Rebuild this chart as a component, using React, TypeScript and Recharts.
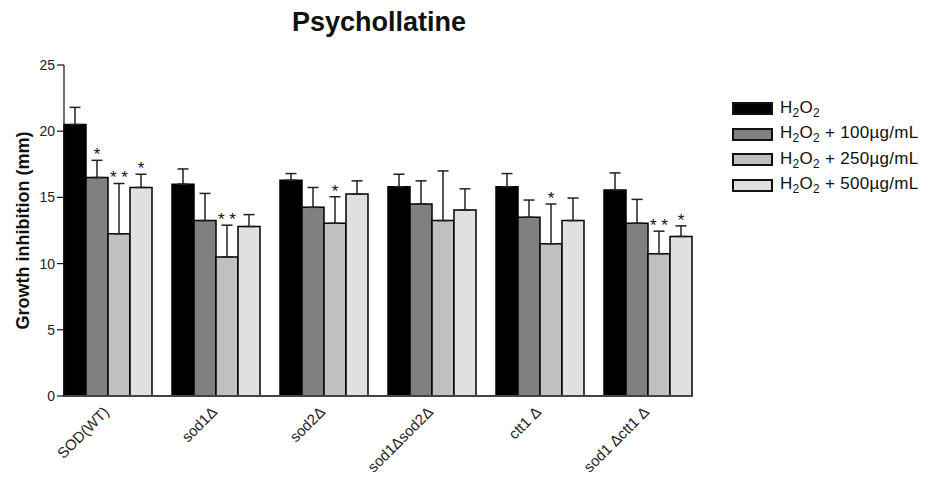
import {
  BarChart,
  Bar,
  XAxis,
  YAxis,
  ErrorBar,
  LabelList,
  Legend
} from 'recharts';

// strains on the x axis
const strains = ['SOD(WT)', 'sod1Δ', 'sod2Δ', 'sod1Δsod2Δ', 'ctt1 Δ', 'sod1 Δctt1 Δ'];

// mean growth inhibition (mm) and SD for each treatment
const h2o2 = [20.5, 16.0, 16.3, 15.8, 15.8, 15.55];
const h2o2Sd = [1.3, 1.15, 0.5, 0.95, 1.0, 1.3];
const dose100 = [16.5, 13.25, 14.25, 14.5, 13.5, 13.05];
const dose100Sd = [1.3, 2.05, 1.5, 1.75, 1.3, 1.8];
const dose250 = [12.25, 10.5, 13.05, 13.25, 11.5, 10.75];
const dose250Sd = [3.8, 2.4, 2.0, 3.75, 3.0, 1.7];
const dose500 = [15.75, 12.8, 15.25, 14.05, 13.25, 12.05];
const dose500Sd = [1.0, 0.9, 1.0, 1.6, 1.7, 0.8];

// significance marks
const sig100 = ['*', '', '', '', '', ''];
const sig250 = ['**', '**', '*', '', '*', '**'];
const sig500 = ['*', '', '', '', '', '*'];

const yTicks = [0, 5, 10, 15, 20, 25];

const data = strains.map((name, i) => ({
  name,
  h2o2: h2o2[i],
  h2o2Err: [0, h2o2Sd[i]],
  d100: dose100[i],
  d100Err: [0, dose100Sd[i]],
  d100Sig: sig100[i],
  d250: dose250[i],
  d250Err: [0, dose250Sd[i]],
  d250Sig: sig250[i],
  d500: dose500[i],
  d500Err: [0, dose500Sd[i]],
  d500Sig: sig500[i],
}));

const FONT = '"Liberation Sans", Arial, Helvetica, sans-serif';

// stars sit just above the error bar cap
const makeStars = (vals: number[], sds: number[]) => (p: any) => {
  const vb = p.viewBox ?? p;
  const { x, y, width, height } = vb;
  const idx = p.index;
  if (!p.value || idx == null) return null;
  const pxPerUnit = height / vals[idx];
  const capY = y - sds[idx] * pxPerUnit;
  const text = p.value === '**' ? '* *' : '*';
  return (
    <text
      x={x + width / 2}
      y={capY}
      textAnchor="middle"
      fontFamily={FONT}
      fontSize={17}
      fill="#111"
    >
      {text}
    </text>
  );
};

const XTick = ({ x, y, payload }: any) => (
  <g transform={`translate(${x + 3},${y + 17})`}>
    <text
      transform="rotate(-45)"
      textAnchor="end"
      fontFamily={FONT}
      fontSize={15}
      fill="#222"
    >
      {payload.value}
    </text>
  </g>
);

const YTitle = ({ viewBox }: any) => {
  const cx = 23;
  const cy = viewBox.y + viewBox.height / 2;
  return (
    <text
      x={cx}
      y={cy}
      transform={`rotate(-90 ${cx} ${cy})`}
      textAnchor="middle"
      dominantBaseline="central"
      fontFamily={FONT}
      fontWeight="bold"
      fontSize={18}
      fill="#111"
    >
      Growth inhibition (mm)
    </text>
  );
};

const LegendLabel = ({ text }: { text: string }) => {
  const rest = text.replace('H2O2', '');
  return (
    <span>
      H<sub style={{ fontSize: '0.7em' }}>2</sub>O<sub style={{ fontSize: '0.7em' }}>2</sub>
      {rest}
    </span>
  );
};

const LegendBox = ({ payload }: any) => (
  <div style={{ fontFamily: FONT, fontSize: 17, letterSpacing: 0.3, color: '#111' }}>
    {(payload || []).map((entry: any) => (
      <div
        key={entry.value}
        style={{ display: 'flex', alignItems: 'center', height: 25.5 }}
      >
        <div
          style={{
            width: 37,
            height: 9,
            background: entry.color,
            border: '2px solid #111',
            marginRight: 7,
          }}
        />
        <LegendLabel text={entry.value} />
      </div>
    ))}
  </div>
);

const PsychollatineChart = () => {
  return (
    <div style={{ position: 'absolute', left: 0, top: 0, width: 930, height: 496, background: '#fff' }}>
      <div
        style={{
          position: 'absolute',
          left: 0,
          width: 758,
          top: 7,
          textAlign: 'center',
          fontFamily: FONT,
          fontWeight: 'bold',
          fontSize: 27,
          color: '#111',
        }}
      >
        Psychollatine
      </div>
      <BarChart
        width={930}
        height={496}
        data={data}
        margin={{ top: 65, right: 238, bottom: 40, left: 0 }}
        barCategoryGap={11}
        barGap={0}
      >
        <XAxis
          dataKey="name"
          tick={<XTick />}
          tickLine={false}
          tickSize={0}
          tickMargin={0}
          interval={0}
          height={60}
          padding={{ left: -11, right: -9 }}
          axisLine={{ stroke: '#444', strokeWidth: 2 }}
        />
        <YAxis
          width={64}
          domain={[0, 25]}
          ticks={yTicks}
          tickSize={7}
          tickMargin={2}
          axisLine={{ stroke: '#111', strokeWidth: 1.2 }}
          tickLine={{ stroke: '#111', strokeWidth: 1.2 }}
          tick={{ fontFamily: FONT, fontSize: 14, fill: '#222' }}
          label={<YTitle />}
        />
        <Legend
          layout="vertical"
          align="center"
          verticalAlign="middle"
          wrapperStyle={{ left: 732, top: 96, width: 198 }}
          content={<LegendBox />}
        />
        <Bar dataKey="h2o2" name="H2O2" fill="#000" stroke="#000" strokeWidth={1.5} isAnimationActive={false}>
          <ErrorBar dataKey="h2o2Err" width={5.5} stroke="#222" strokeWidth={1.5} direction="y" />
        </Bar>
        <Bar dataKey="d100" name="H2O2 + 100µg/mL" fill="#808080" stroke="#000" strokeWidth={1.5} isAnimationActive={false}>
          <ErrorBar dataKey="d100Err" width={5.5} stroke="#222" strokeWidth={1.5} direction="y" />
          <LabelList dataKey="d100Sig" content={makeStars(dose100, dose100Sd)} />
        </Bar>
        <Bar dataKey="d250" name="H2O2 + 250µg/mL" fill="#c0c0c0" stroke="#000" strokeWidth={1.5} isAnimationActive={false}>
          <ErrorBar dataKey="d250Err" width={5.5} stroke="#222" strokeWidth={1.5} direction="y" />
          <LabelList dataKey="d250Sig" content={makeStars(dose250, dose250Sd)} />
        </Bar>
        <Bar dataKey="d500" name="H2O2 + 500µg/mL" fill="#e0e0e0" stroke="#000" strokeWidth={1.5} isAnimationActive={false}>
          <ErrorBar dataKey="d500Err" width={5.5} stroke="#222" strokeWidth={1.5} direction="y" />
          <LabelList dataKey="d500Sig" content={makeStars(dose500, dose500Sd)} />
        </Bar>
      </BarChart>
    </div>
  );
};

export default function App() {
  return <PsychollatineChart />;
}
